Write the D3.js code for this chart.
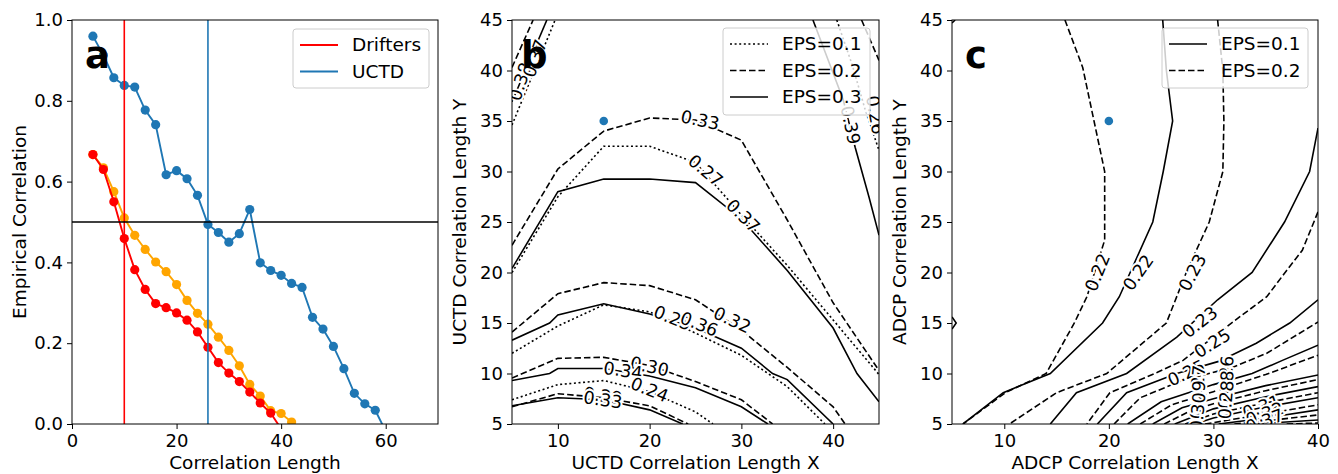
<!DOCTYPE html>
<html lang="en">
<head>
<meta charset="utf-8">
<style>
  html, body { margin: 0; padding: 0; background: #fff; }
  svg { display: block; }
  text { font-family: "DejaVu Sans", sans-serif; fill: #000; }
  .tick text { font-size: 18px; }
  .tick line { stroke: #000; }
  .axis-title { font-size: 18.5px; }
  .legend text { font-size: 18.5px; }
  .clabel { font-size: 17.5px; paint-order: stroke; stroke: #fff; stroke-width: 4px; stroke-linejoin: round; }
  .plabel { font-size: 37px; font-weight: bold; }
</style>
</head>
<body>
<svg width="1338" height="474"></svg>
<script src="https://cdn.jsdelivr.net/npm/d3@7"></script>
<script>
// ---------- panel a : empirical correlation ----------
const lagUCTD = [4, 6, 8, 10, 12, 14, 16, 18, 20, 22, 24, 26, 28, 30, 32, 34, 36, 38, 40, 42, 44, 46, 48, 50, 52, 54, 56, 58, 60]
const corrUCTD = [0.960, 0.913, 0.857, 0.838, 0.834, 0.777, 0.741, 0.617, 0.627, 0.607, 0.566, 0.494, 0.474, 0.450, 0.471, 0.531,
  0.399, 0.380, 0.368, 0.348, 0.338, 0.264, 0.235, 0.192, 0.137, 0.076, 0.050, 0.034, -0.018]
const lagDrifters = [4, 6, 8, 10, 12, 14, 16, 18, 20, 22, 24, 26, 28, 30, 32, 34, 36, 38, 40]
const corrDrifters = [0.667, 0.630, 0.550, 0.459, 0.382, 0.333, 0.298, 0.288, 0.275, 0.257, 0.228, 0.190, 0.152, 0.126, 0.105,
  0.079, 0.052, 0.027, -0.012]
const lagDrifters2 = [4, 6, 8, 10, 12, 14, 16, 18, 20, 22, 24, 26, 28, 30, 32, 34, 36, 38, 40, 42]
const corrDrifters2 = [0.667, 0.634, 0.575, 0.510, 0.467, 0.432, 0.401, 0.377, 0.345, 0.306, 0.274, 0.247, 0.215, 0.182, 0.144,
  0.098, 0.069, 0.033, 0.026, 0.005]
const lengthDrifters = 10
const lengthUCTD = 26
const threshold = 0.5
const ticksAx = [0, 20, 40, 60]
const ticksAy = [0, 0.2, 0.4, 0.6, 0.8, 1.0]

// ---------- panel b : UCTD contours (x, y in correlation length) ----------
const bEps01 = [
  [[5, 20.0], [10, 27.5], [15, 32.5], [20, 32.5], [25, 30.9], [30, 25.7], [35, 20.7], [40, 15.3], [45, 9.9]],
  [[5, 12.0], [10, 14.7], [15, 16.8], [20, 16.1], [25, 14.0], [30, 11.8], [35, 8.7], [39.1, 5]],
  [[5, 7.4], [10, 8.9], [15, 9.3], [20, 8.2], [25, 6.2], [26.9, 5]],
  [[5, 34.6], [9.7, 45]],
  [[40.4, 45], [42.1, 40.5], [43.5, 36.1], [45, 32.1]]
]
const bEps02 = [
  [[5, 22.7], [10, 30.25], [15, 34.0], [20, 35.3], [25, 35.1], [30, 33.1], [35, 25.2], [40, 17.0], [45, 10.3]],
  [[5, 14.1], [10, 17.9], [15, 19.0], [20, 18.7], [25, 17.3], [30, 14.3], [35, 10.6], [40, 6.7], [41.3, 5]],
  [[5, 9.55], [10, 11.5], [15, 11.6], [20, 10.8], [25, 9.2], [30, 7.4], [33.4, 5]],
  [[5, 6.7], [10, 8.0], [15, 7.6], [20, 6.8], [24.2, 5]],
  [[5, 40.3], [7.3, 45]],
  [[43.1, 45], [45, 41]]
]
const bEps03 = [
  [[5, 20.4], [10, 28.0], [15, 29.25], [20, 29.25], [25, 28.9], [30, 25.3], [35, 20.2], [40, 14.5], [42.6, 10], [45, 7.2]],
  [[5, 13.3], [9.1, 15], [10, 15.8], [15, 16.9], [20, 15.9], [25, 14.5], [30, 12.5], [33.4, 10], [35, 9.4], [40, 5]],
  [[5, 9.3], [9.1, 10], [10, 10.5], [15, 10.5], [20, 9.75], [25, 8.6], [30, 6.7], [32.9, 5]],
  [[5, 6.8], [10, 7.6], [15, 7.4], [20, 6.4], [23.6, 5]],
  [[5, 36.9], [8.8, 45]],
  [[37.8, 45], [41.1, 37.1], [42.4, 32.4], [43.9, 27.5], [45, 23.7]]
]
const bLabels = [
  ["0.33", 25.5, 35.1, 12], ["0.27", 26.1, 30.1, 40], ["0.37", 30.2, 25.6, 45],
  ["0.39", 41.9, 34.6, 78], ["0.26", 44.6, 35.6, 80], ["0.38", 5.9, 38.9, -72], ["0.37", 7.5, 41.2, -70],
  ["0.25", 22.5, 15.5, 22], ["0.36", 25.4, 14.9, 22], ["0.32", 29.0, 15.3, 25],
  ["0.30", 20.0, 10.7, 12], ["0.34", 17.1, 10.3, 8], ["0.24", 20.0, 8.4, 22],
  ["0.29", 14.9, 7.8, 8], ["0.33", 14.9, 7.4, 8]
]
const bBest = [15, 35]

// ---------- panel c : ADCP contours ----------
const cEps01 = [
  [[25.15, 45], [25.5, 40], [26.1, 35], [25.2, 30], [24.2, 25], [21, 17.6], [19.4, 15], [14.4, 10], [9.9, 8.1], [6.05, 5]],
  [[40, 34.3], [39.2, 30], [36.8, 25], [33.7, 20], [30.4, 17.3], [26.5, 13.6], [21.7, 10], [16.9, 8.1], [14.4, 5]],
  [[18.9, 5], [21.7, 8.1], [26.5, 10], [30.5, 11.2], [34.1, 13], [37.3, 15], [40, 17.3]],
  [[21.8, 5], [25, 7.2], [30, 8.9], [33.7, 10], [36.6, 11.3], [40, 12.8]],
  [[24.2, 5], [27, 6.6], [30, 7.5], [35, 8.8], [40, 9.85]],
  [[26.3, 5], [30, 6.5], [35, 7.7], [40, 8.7]],
  [[28.2, 5], [30, 5.6], [35, 6.7], [40, 7.6]],
  [[30.5, 5], [35, 5.6], [40, 6.4]],
  [[34, 5], [40, 5.4]],
  [[5, 14.4], [5.4, 15], [5, 15.6]],
  [[5, 44.7], [5.3, 45]]
]
const cEps02 = [
  [[15.8, 45], [17.5, 40.3], [19.6, 30], [19.6, 23.2], [17.9, 17.6], [16.7, 15], [14, 10], [10.1, 8.1], [6.05, 5]],
  [[30.4, 45], [30.9, 40], [31, 35], [30.9, 30], [29.6, 25], [27.4, 20], [25.5, 15], [19.8, 10], [15, 8.1], [10.5, 5]],
  [[40, 26], [38.5, 22.2], [37, 20.2], [35.1, 17.6], [32.5, 15.6], [27.1, 11.3], [24.6, 10.1], [20.1, 8.1], [17.9, 5]],
  [[20.5, 5], [23, 7.6], [27, 9.3], [31.8, 10.6], [35.1, 12], [40, 15.1]],
  [[23, 5], [26, 6.9], [30, 8.2], [35, 9.9], [40, 11.8]],
  [[25.3, 5], [28, 6.4], [30, 7.0], [35, 8.3], [40, 9.4]],
  [[27.3, 5], [30, 6.0], [35, 7.1], [40, 8.1]],
  [[29.2, 5], [35, 6.0], [40, 6.9]],
  [[32, 5], [35, 5.3], [40, 5.9]],
  [[37, 5], [40, 5.1]]
]
const cLabels = [
  ["0.22", 18.9, 20.0, -68], ["0.22", 22.8, 20.0, -55], ["0.23", 28.0, 20.0, -62],
  ["0.23", 28.7, 15.1, -38], ["0.25", 29.9, 13.0, -32], ["0.25", 27.4, 10.05, -25],
  ["0.26", 31.2, 9.85, -85], ["0.28", 31.2, 8.4, -85], ["0.28", 31.2, 7.4, -85],
  ["0.27", 28.5, 8.9, -85], ["0.29", 28.5, 7.4, -85], ["0.30", 28.5, 6.2, -85],
  ["0.31", 34.6, 6.7, -20], ["0.32", 34.9, 6.0, -20], ["0.37", 34.9, 5.3, -20]
]
const cBest = [20, 35]
const ticksXY = [5, 10, 15, 20, 25, 30, 35, 40, 45]
const ticksBx = [10, 20, 30, 40]
const ticksCx = [10, 20, 30, 40]

// ---------- drawing ----------
const svg = d3.select("svg")
const plotTop = 20, plotBottom = 424
const blue = "#1f77b4"
const dash = { solid: null, dashed: "6.5,3", dotted: "2,2.6" }

function makePanel (id, left, right, xDomain, yDomain, xTicks, yTicks, yFmt) {
  const x = d3.scaleLinear().domain(xDomain).range([left, right])
  const y = d3.scaleLinear().domain(yDomain).range([plotBottom, plotTop])

  svg.append("clipPath").attr("id", id)
    .append("rect").attr("x", left).attr("y", plotTop).attr("width", right - left).attr("height", plotBottom - plotTop)

  const xa = svg.append("g").attr("transform", `translate(0,${plotBottom})`)
    .call(d3.axisBottom(x).tickValues(xTicks).tickSize(5).tickPadding(5).tickFormat(d => d))
  const ya = svg.append("g").attr("transform", `translate(${left},0)`)
    .call(d3.axisLeft(y).tickValues(yTicks).tickSize(5).tickPadding(4).tickFormat(yFmt || (d => d)))
  xa.select(".domain").remove()
  ya.select(".domain").remove()
  xa.selectAll("text").attr("fill", "#000")
  ya.selectAll("text").attr("fill", "#000")

  const plot = svg.append("g").attr("clip-path", `url(#${id})`)
  return { x, y, plot, left, right }
}

function frame (p) {
  svg.append("rect")
    .attr("x", p.left).attr("y", plotTop).attr("width", p.right - p.left).attr("height", plotBottom - plotTop)
    .attr("fill", "none").attr("stroke", "#000").attr("stroke-width", 1)
}

function legend (x0, y0, w, h, entries) {
  const g = svg.append("g").attr("class", "legend")
  g.append("rect").attr("x", x0).attr("y", y0).attr("width", w).attr("height", h).attr("rx", 3)
    .attr("fill", "#fff").attr("fill-opacity", 0.8).attr("stroke", "#ccc").attr("stroke-width", 1)
  entries.forEach((e, i) => {
    const yy = y0 + 16 + i * 26.5
    g.append("line").attr("x1", x0 + 7).attr("x2", x0 + 45).attr("y1", yy).attr("y2", yy)
      .attr("stroke", e.color).attr("stroke-width", e.width).attr("stroke-dasharray", e.dash)
    g.append("text").attr("x", x0 + 59).attr("y", yy).attr("dy", "0.35em").text(e.label)
  })
}

function contours (p, lines, style) {
  const line = d3.line().x(d => p.x(d[0])).y(d => p.y(d[1]))
  p.plot.append("g").selectAll("path").data(lines).join("path")
    .attr("d", line).attr("fill", "none").attr("stroke", "#000").attr("stroke-width", 1.6)
    .attr("stroke-dasharray", dash[style])
}

function clabels (p, labels) {
  p.plot.append("g").selectAll("text").data(labels).join("text")
    .attr("class", "clabel")
    .attr("text-anchor", "middle").attr("dy", "0.35em")
    .attr("transform", d => `translate(${p.x(d[1])},${p.y(d[2])}) rotate(${d[3]})`)
    .text(d => d[0])
}

function axisTitles (p, xt, yt, yx) {
  svg.append("text").attr("class", "axis-title").attr("text-anchor", "middle")
    .attr("x", (p.left + p.right) / 2).attr("y", 469).text(xt)
  svg.append("text").attr("class", "axis-title").attr("text-anchor", "middle")
    .attr("transform", `translate(${yx},${(plotTop + plotBottom) / 2}) rotate(-90)`).text(yt)
}

// panel a
const pa = makePanel("clipA", 72, 438, [0, 70], [0, 1], ticksAx, ticksAy, d3.format(".1f"))
function series (lags, vals, color) {
  const pts = lags.map((l, i) => [l, vals[i]])
  pa.plot.append("path").datum(pts)
    .attr("d", d3.line().x(d => pa.x(d[0])).y(d => pa.y(d[1])))
    .attr("fill", "none").attr("stroke", color).attr("stroke-width", 1.9)
  pa.plot.append("g").selectAll("circle").data(pts).join("circle")
    .attr("cx", d => pa.x(d[0])).attr("cy", d => pa.y(d[1])).attr("r", 4.6).attr("fill", color)
}
series(lagDrifters2, corrDrifters2, "orange")
series(lagDrifters, corrDrifters, "red")
series(lagUCTD, corrUCTD, blue)
pa.plot.append("line").attr("x1", pa.x(lengthDrifters)).attr("x2", pa.x(lengthDrifters))
  .attr("y1", plotTop).attr("y2", plotBottom).attr("stroke", "red").attr("stroke-width", 1.6)
pa.plot.append("line").attr("x1", pa.x(lengthUCTD)).attr("x2", pa.x(lengthUCTD))
  .attr("y1", plotTop).attr("y2", plotBottom).attr("stroke", blue).attr("stroke-width", 1.6)
pa.plot.append("line").attr("x1", pa.left).attr("x2", pa.right)
  .attr("y1", pa.y(threshold)).attr("y2", pa.y(threshold)).attr("stroke", "#000").attr("stroke-width", 1.6)
frame(pa)
svg.append("text").attr("class", "plabel").attr("x", 85).attr("y", 68).text("a")
legend(293, 29, 136, 59, [
  { label: "Drifters", color: "red", width: 1.9 },
  { label: "UCTD", color: blue, width: 1.9 }
])
axisTitles(pa, "Correlation Length", "Empirical Correlation", 26)

// panel b
const pb = makePanel("clipB", 512, 879, [5, 45], [5, 45], ticksBx, ticksXY)
contours(pb, bEps01, "dotted")
contours(pb, bEps02, "dashed")
contours(pb, bEps03, "solid")
clabels(pb, bLabels)
pb.plot.append("circle").attr("cx", pb.x(bBest[0])).attr("cy", pb.y(bBest[1])).attr("r", 4.3).attr("fill", blue)
frame(pb)
svg.append("text").attr("class", "plabel").attr("x", 521).attr("y", 68).text("b")
legend(723, 28, 147, 87, [
  { label: "EPS=0.1", color: "#000", width: 1.6, dash: dash.dotted },
  { label: "EPS=0.2", color: "#000", width: 1.6, dash: dash.dashed },
  { label: "EPS=0.3", color: "#000", width: 1.6 }
])
axisTitles(pb, "UCTD Correlation Length X", "UCTD Correlation Length Y", 466)

// panel c
const pc = makePanel("clipC", 952, 1318, [5, 40], [5, 45], ticksCx, ticksXY)
contours(pc, cEps01, "solid")
contours(pc, cEps02, "dashed")
clabels(pc, cLabels)
pc.plot.append("circle").attr("cx", pc.x(cBest[0])).attr("cy", pc.y(cBest[1])).attr("r", 4.3).attr("fill", blue)
frame(pc)
svg.append("text").attr("class", "plabel").attr("x", 965).attr("y", 68).text("c")
legend(1162, 28, 146, 60, [
  { label: "EPS=0.1", color: "#000", width: 1.6 },
  { label: "EPS=0.2", color: "#000", width: 1.6, dash: dash.dashed }
])
axisTitles(pc, "ADCP Correlation Length X", "ADCP Correlation Length Y", 906)
</script>
</body>
</html>
